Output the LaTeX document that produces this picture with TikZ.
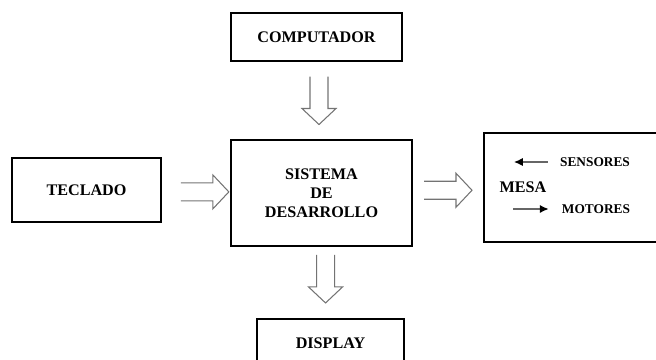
\documentclass[tikz,border=0pt]{standalone}
\usepackage{fontspec}
\setmainfont{Liberation Serif}
\usetikzlibrary{arrows.meta,positioning}

\begin{document}
\begin{tikzpicture}[x=0.02cm, y=-0.02cm, >={Latex[length=5pt,width=4.6pt,black]}]
	\tikzstyle{block} = [draw, line width=1.2pt, inner sep=0pt, align=center, font=\fontsize{9.2}{10.8}\selectfont\bfseries];
	\tikzstyle{lbl} = [inner sep=0pt, font=\fontsize{7.6}{9}\selectfont\bfseries];
	\tikzstyle{hollow} = [draw=black!55, line width=0.6pt, line join=miter];
	\tikzstyle{sig} = [->, draw=black!60, line width=0.7pt];
	\tikzset{fatarrow/.pic={\path[hollow] (-24,-9) -- (8,-9) -- (8,-17) -- (24,0) -- (8,17) -- (8,9) -- (-24,9);}};

	\useasboundingbox (0,0) rectangle (656,359);

	\node [block, minimum width=3.42cm, minimum height=0.96cm] (comp) at (316.5,37)  {COMPUTADOR};
	\node [block, minimum width=3.62cm, minimum height=2.12cm] (sis)  at (321.5,193) {SISTEMA\\DE\\DESARROLLO};
	\node [block, minimum width=2.98cm, minimum height=1.28cm] (tec)  at (86.5,190)  {TECLADO};
	\node [block, minimum width=3.56cm, minimum height=2.18cm] (mesa) at (573,187.5) {};
	\node [block, minimum width=2.94cm, minimum height=0.96cm] (disp) at (330.5,343) {DISPLAY};

	\node [block, draw=none] (mesalbl) at (523,187) {MESA};
	\node [lbl] (sens) at (595,162) {SENSORES};
	\node [lbl] (mot)  at (596,209) {MOTORES};
	\coordinate (sensin)  at (514,162);
	\coordinate (motout) at (513,209);

	\draw [sig, shorten <=6.8pt] (sens.west) -- (sensin);
	\draw [sig, shorten >=7.4pt] (motout) -- (mot.west);

	\path (comp.south) -- (sis.north) coordinate [pos=0.5]  (a1);
	\path (sis.south)  -- (disp.north) coordinate [pos=0.45] (a2);
	\path (tec.east)   -- (sis.west)  coordinate [pos=0.63] (a3);
	\path (sis.east)   -- (mesa.west) coordinate [pos=0.5]  (a4);

	\pic [rotate=-90] at (a1) {fatarrow};
	\pic [rotate=-90] at (a2) {fatarrow};
	\pic at (a3) {fatarrow};
	\pic at (a4) {fatarrow};
\end{tikzpicture}
\end{document}
